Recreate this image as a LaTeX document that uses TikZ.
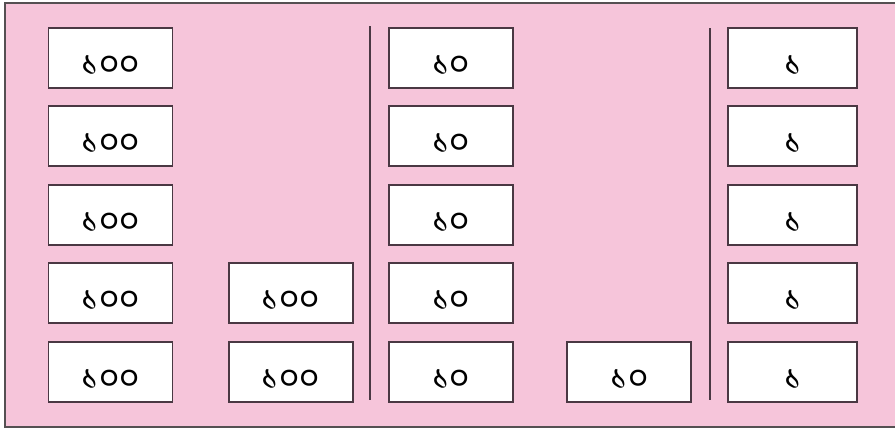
\documentclass[tikz,border=0pt]{standalone}
\usepackage{fontspec}
\usepackage{xcolor}
\usepackage{tikz}
\usetikzlibrary{positioning}
\newfontfamily\bnfont[Script=Bengali]{Hind Siliguri}
\definecolor{blush}{HTML}{F6C5DA}
\definecolor{plum}{HTML}{4A3843}
\definecolor{frame}{HTML}{555052}

\begin{document}
\begin{tikzpicture}[
      font=\bnfont\fontsize{20}{22}\selectfont,
      numbox/.style={draw=plum,line width=1.1pt,fill=white,
        minimum width=2.48cm,minimum height=1.2cm,inner sep=0pt,
        text height=0.7cm,text depth=0pt},
      sepline/.style={draw=plum,line width=1.2pt}
    ]
      \useasboundingbox (0,0) rectangle (17.9,-8.6);
      \draw[frame,line width=1.2pt,fill=blush] (0.1,-0.06) rectangle (18.1,-8.54);
      % hundreds
      \node[numbox] at (2.21,-1.16) (h1) {১০০};
      \node[numbox,below=3.3mm of h1] (h2) {১০০};
      \node[numbox,below=3.3mm of h2] (h3) {১০০};
      \node[numbox,below=3.3mm of h3] (h4) {১০০};
      \node[numbox,below=3.3mm of h4] (h5) {১০০};
      \node[numbox,right=10.9mm of h4] (h6) {১০০};
      \node[numbox,right=10.9mm of h5] (h7) {১০০};
      % tens
      \node[numbox,right=42.9mm of h1] (t1) {১০};
      \node[numbox,below=3.3mm of t1] (t2) {১০};
      \node[numbox,below=3.3mm of t2] (t3) {১০};
      \node[numbox,below=3.3mm of t3] (t4) {১০};
      \node[numbox,below=3.3mm of t4] (t5) {১০};
      \node[numbox,right=10.5mm of t5] (t6) {১০};
      % ones
      \node[numbox,minimum width=2.58cm,right=42.7mm of t1] (o1) {১};
      \node[numbox,minimum width=2.58cm,below=3.3mm of o1] (o2) {১};
      \node[numbox,minimum width=2.58cm,below=3.3mm of o2] (o3) {১};
      \node[numbox,minimum width=2.58cm,below=3.3mm of o3] (o4) {১};
      \node[numbox,minimum width=2.58cm,below=3.3mm of o4] (o5) {১};
      % separators
      \coordinate (s1top) at (7.4,-0.52);
      \coordinate (s1bot) at (7.4,-8.0);
      \coordinate (s2top) at (14.2,-0.56);
      \coordinate (s2bot) at (14.2,-8.0);
      \draw[sepline] (s1top) -- (s1bot);
      \draw[sepline] (s2top) -- (s2bot);
    \end{tikzpicture}
\end{document}
